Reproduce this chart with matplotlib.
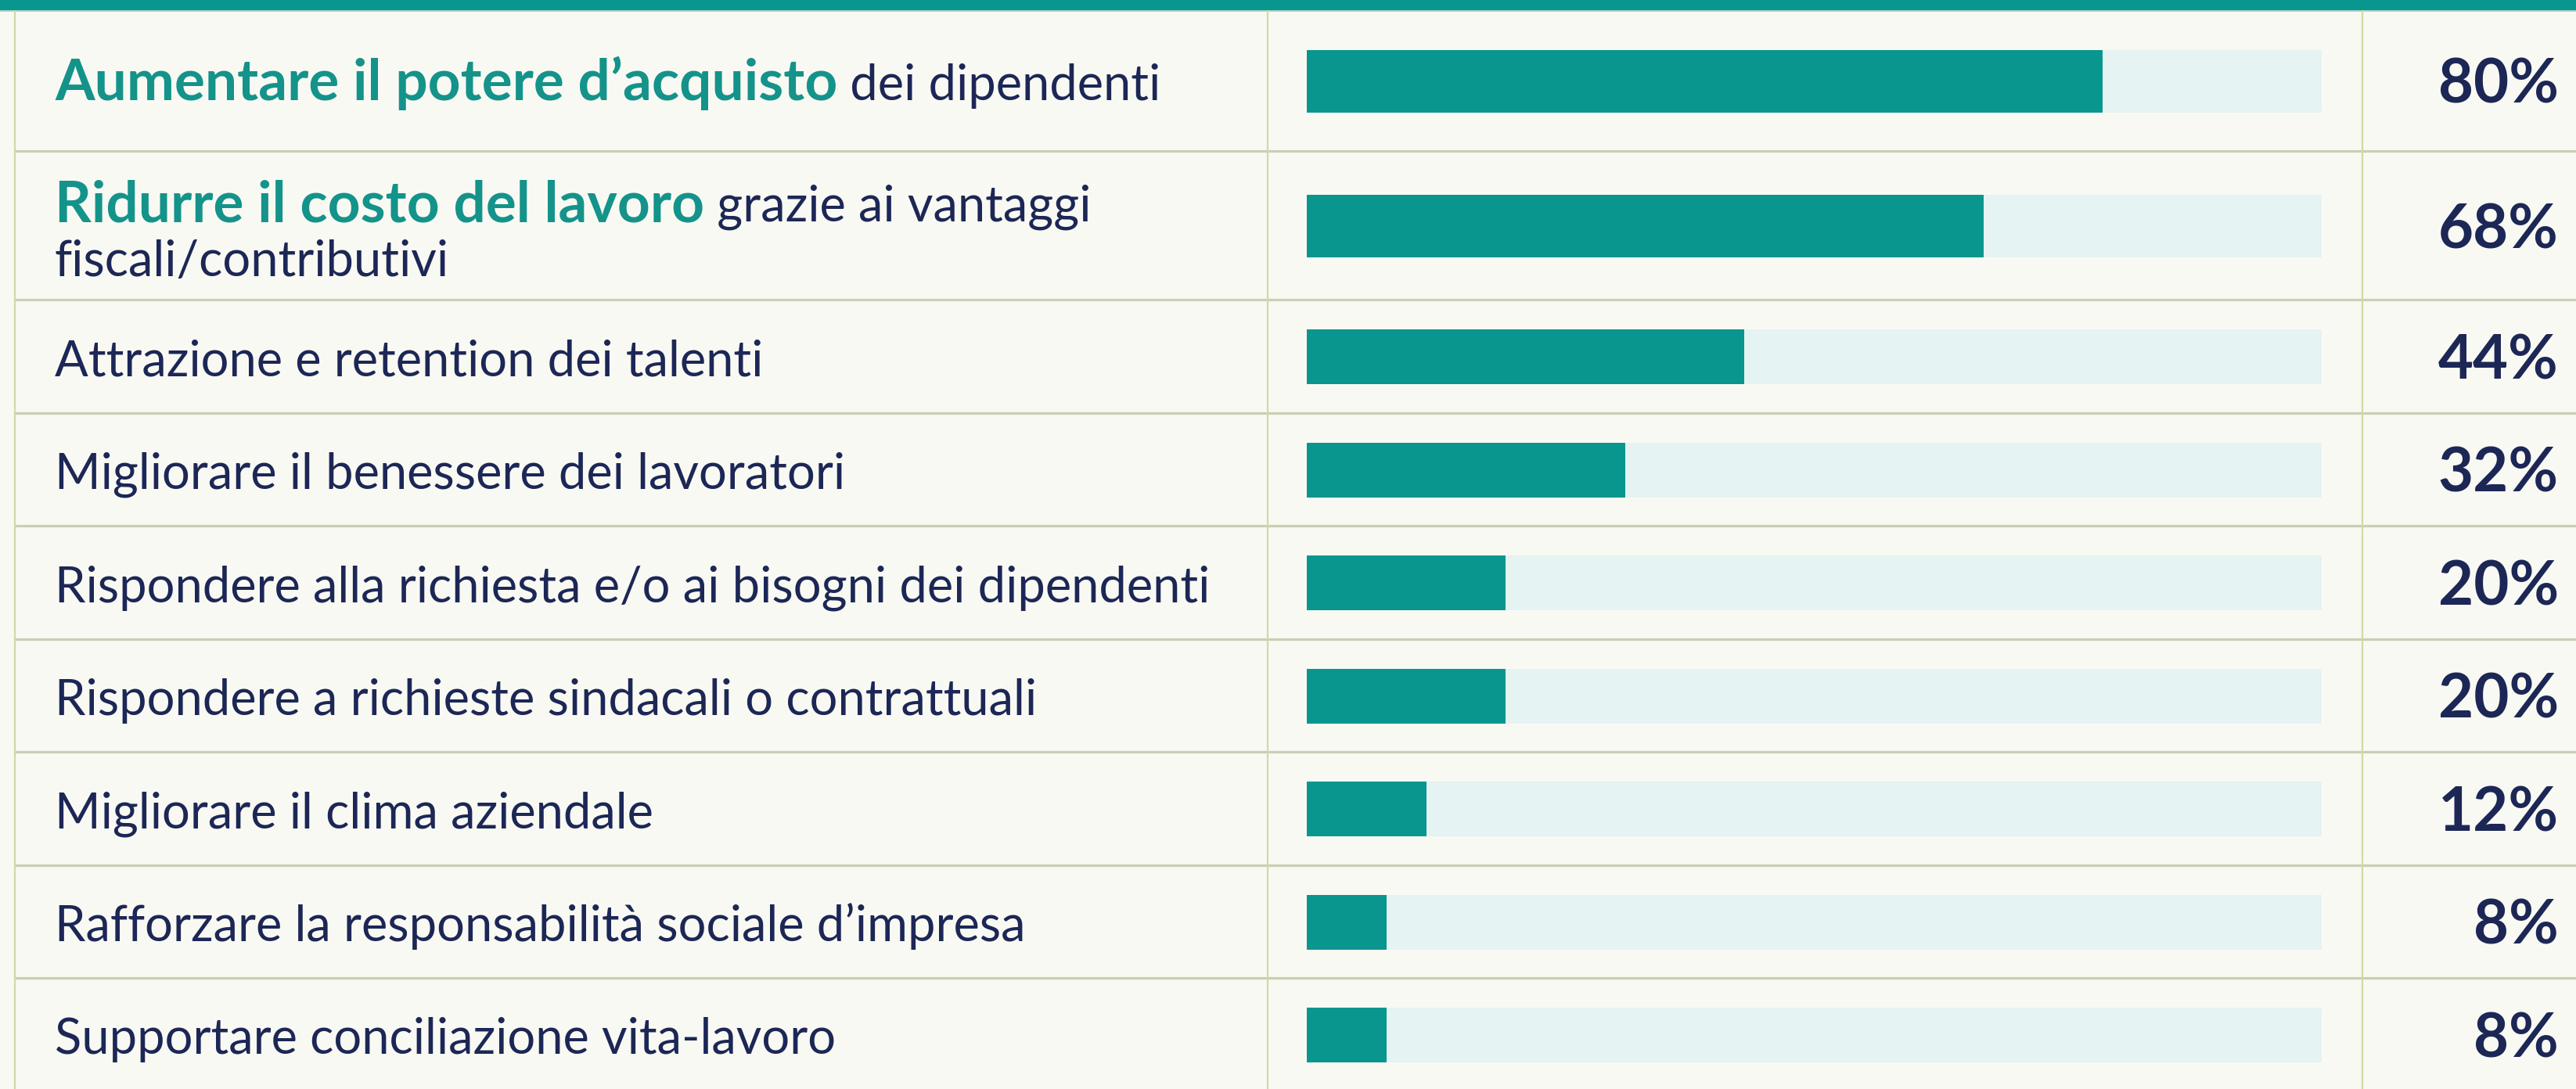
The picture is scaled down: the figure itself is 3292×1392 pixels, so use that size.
import matplotlib.pyplot as plt

# survey data
categories = [
    "Aumentare il potere d’acquisto dei dipendenti",
    "Ridurre il costo del lavoro grazie ai vantaggi\nfiscali/contributivi",
    "Attrazione e retention dei talenti",
    "Migliorare il benessere dei lavoratori",
    "Rispondere alla richiesta e/o ai bisogni dei dipendenti",
    "Rispondere a richieste sindacali o contrattuali",
    "Migliorare il clima aziendale",
    "Rafforzare la responsabilità sociale d’impresa",
    "Supportare conciliazione vita-lavoro",
]
highlight = [
    "Aumentare il potere d’acquisto",
    "Ridurre il costo del lavoro",
    "", "", "", "", "", "", "",
]
values = [80, 68, 44, 32, 20, 20, 12, 8, 8]

# colours
BG = "#F9F9F3"
TEAL = "#09968E"
TEAL_TXT = "#14938A"
TRACK = "#E5F3F2"
NAVY = "#1C2756"
GRID_H = "#CBCEB4"
GRID_V = "#D2D9A2"

W, H = 3292, 1392
fig = plt.figure(figsize=(W / 100, H / 100), dpi=100, facecolor=BG)

# layout in pixels
top_band = 13
row_h = [180, 190] + [144.5] * 7
bar_h = [80, 80] + [70] * 7
edges = [top_band]
for h in row_h:
    edges.append(edges[-1] + h)
centers = [(edges[i] + edges[i + 1]) / 2 + 1 for i in range(len(row_h))]

bg = fig.add_axes([0, 0, 1, 1])
bg.set_xlim(0, W)
bg.set_ylim(H, 0)
bg.axis("off")

bg.axhspan(0, top_band, color=TEAL, lw=0)
bg.plot([0, W], [top_band + 1, top_band + 1], color="#9CCBC5", lw=1.2)

for y in edges[1:-1]:
    bg.plot([18, W], [y, y], color=GRID_H, lw=2.3, solid_capstyle="butt")
for x in [19, 1620, 3019]:
    bg.plot([x, x], [top_band, H], color=GRID_V, lw=1.6, solid_capstyle="butt")

# bars
ax = fig.add_axes([1670 / W, 0, 1297 / W, 1])
ax.set_xlim(0, 102)
ax.set_ylim(H, 0)
ax.axis("off")
ax.patch.set_alpha(0)
xmax = ax.get_xlim()[1]
ax.barh(centers, [xmax] * len(values), height=bar_h, color=TRACK, lw=0)
ax.barh(centers, values, height=bar_h, color=TEAL, lw=0)

# labels
fig.canvas.draw()
renderer = fig.canvas.get_renderer()
x0 = 70
line_gap = 70
for i, (lab, hl) in enumerate(zip(categories, highlight)):
    c = centers[i]
    rest = lab[len(hl):]
    lines = rest.split("\n")
    n = len(lines)
    base = c + 24 - (n - 1) * line_gap / 2 + (5 if n > 1 else 0)
    x = x0
    if hl:
        t = bg.text(x0, base, hl, color=TEAL_TXT, fontsize=52.5, fontweight="bold",
                    family=["Lato", "DejaVu Sans"], ha="left", va="baseline")
        x = t.get_window_extent(renderer).x1
    for j, ln in enumerate(lines):
        bg.text(x if j == 0 else x0, base + j * line_gap, ln, color=NAVY, fontsize=45.5,
                family=["Lato", "DejaVu Sans"], ha="left", va="baseline")

    bg.text(3270, c + 28, f"{values[i]}%", color=NAVY, fontsize=56, fontweight="bold",
            family=["Lato", "DejaVu Sans"], ha="right", va="baseline")

fig.savefig("out.png", dpi=100, facecolor=BG)
